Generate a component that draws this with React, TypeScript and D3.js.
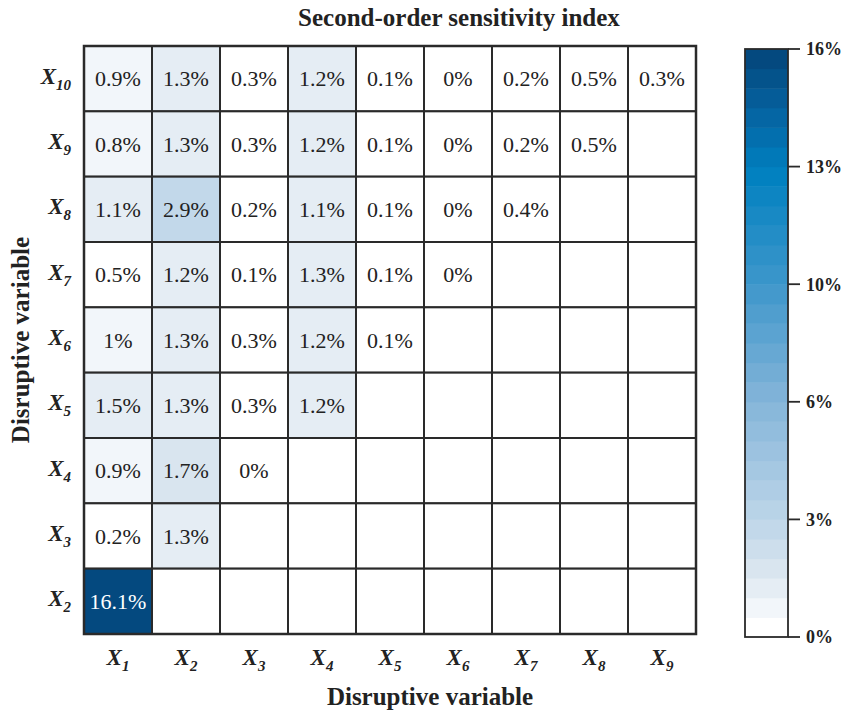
import React from "react";
import * as d3 from "d3";

// Variables on each axis
const colVars = ["1", "2", "3", "4", "5", "6", "7", "8", "9"];
const rowVars = ["10", "9", "8", "7", "6", "5", "4", "3", "2"];

// Second-order indices (%), one row per row variable, columns X1..X(i-1)
const rowX10 = [0.9, 1.3, 0.3, 1.2, 0.1, 0, 0.2, 0.5, 0.3];
const rowX9 = [0.8, 1.3, 0.3, 1.2, 0.1, 0, 0.2, 0.5];
const rowX8 = [1.1, 2.9, 0.2, 1.1, 0.1, 0, 0.4];
const rowX7 = [0.5, 1.2, 0.1, 1.3, 0.1, 0];
const rowX6 = [1, 1.3, 0.3, 1.2, 0.1];
const rowX5 = [1.5, 1.3, 0.3, 1.2];
const rowX4 = [0.9, 1.7, 0];
const rowX3 = [0.2, 1.3];
const rowX2 = [16.1];
const rowValues = [rowX10, rowX9, rowX8, rowX7, rowX6, rowX5, rowX4, rowX3, rowX2];

// Colour bar
const vMax = 16.1;
const nLevels = 30;
const tickFractions = [0, 0.2, 0.4, 0.6, 0.8, 1];

// Colour ramp stops (position, colour)
const rampStops: [number, string][] = [
  [0, "#ffffff"],
  [0.069, "#e5edf4"],
  [0.103, "#d9e5ef"],
  [0.172, "#c2d8ea"],
  [0.41, "#80b3d8"],
  [0.6, "#3f97cb"],
  [0.8, "#0080c0"],
  [0.9, "#0565a3"],
  [1, "#04497f"],
];

const ramp = d3
  .scaleLinear<string>()
  .domain(rampStops.map((s) => s[0]))
  .range(rampStops.map((s) => s[1]))
  .interpolate(d3.interpolateRgb);

const levelColors = d3.range(nLevels).map((i) => ramp(i / (nLevels - 1)));
const colorOf = d3.scaleQuantize<string>().domain([0, vMax]).range(levelColors);

const W = 844;
const H = 714;
const grid = { left: 84, top: 46, right: 696, bottom: 634 };
const cbar = { left: 745, right: 788, top: 49, bottom: 637 };
const serif = "'Times New Roman', 'Liberation Serif', serif";
const ink = "#222";

function VarLabel({ x, y, sub, anchor }: { x: number; y: number; sub: string; anchor: string }) {
  return (
    <text
      x={x}
      y={y}
      textAnchor={anchor}
      fontFamily={serif}
      fontWeight="bold"
      fontStyle="italic"
      fontSize={23}
      fill={ink}
    >
      X
      <tspan fontSize={15} dy={6}>
        {sub}
      </tspan>
    </text>
  );
}

export default function App() {
  const x = d3.scaleBand<string>().domain(colVars).range([grid.left, grid.right]);
  const y = d3.scaleBand<string>().domain(rowVars).range([grid.top, grid.bottom]);
  const cy = d3.scaleLinear().domain([0, vMax]).range([cbar.bottom, cbar.top]);

  const cells = rowVars.flatMap((r, ri) =>
    colVars.map((c, ci) => ({ r, c, v: ci < rowValues[ri].length ? rowValues[ri][ci] : null }))
  );

  const bandH = (cbar.bottom - cbar.top) / nLevels;

  return (
    <svg
      width={W}
      height={H}
      style={{ position: "absolute", left: 0, top: 0, background: "#fff" }}
    >
      <text
        x={459}
        y={26}
        textAnchor="middle"
        fontFamily={serif}
        fontWeight="bold"
        fontSize={25}
        fill={ink}
      >
        Second-order sensitivity index
      </text>

      {cells.map((d) => (
        <g key={d.r + "-" + d.c}>
          <rect
            x={x(d.c)}
            y={y(d.r)}
            width={x.bandwidth()}
            height={y.bandwidth()}
            fill={d.v === null ? "#ffffff" : colorOf(d.v)}
            stroke="#2a2a2a"
            strokeWidth={2}
          />
          {d.v !== null && (
            <text
              x={(x(d.c) as number) + x.bandwidth() / 2}
              y={(y(d.r) as number) + y.bandwidth() / 2}
              dy="0.35em"
              textAnchor="middle"
              fontFamily={serif}
              fontSize={22}
              fill={d.v > 8 ? "#ffffff" : ink}
            >
              {d.v + "%"}
            </text>
          )}
        </g>
      ))}
      <rect
        x={grid.left}
        y={grid.top}
        width={grid.right - grid.left}
        height={grid.bottom - grid.top}
        fill="none"
        stroke="#2a2a2a"
        strokeWidth={2.5}
      />

      {rowVars.map((r) => (
        <VarLabel key={r} x={71} y={(y(r) as number) + y.bandwidth() / 2 + 5} sub={r} anchor="end" />
      ))}
      {colVars.map((c) => (
        <VarLabel key={c} x={(x(c) as number) + x.bandwidth() / 2} y={665} sub={c} anchor="middle" />
      ))}

      <text
        x={430}
        y={705}
        textAnchor="middle"
        fontFamily={serif}
        fontWeight="bold"
        fontSize={25}
        fill={ink}
      >
        Disruptive variable
      </text>
      <text
        transform={`translate(29, ${(grid.top + grid.bottom) / 2}) rotate(-90)`}
        textAnchor="middle"
        fontFamily={serif}
        fontWeight="bold"
        fontSize={25}
        fill={ink}
      >
        Disruptive variable
      </text>

      {levelColors.map((col, i) => (
        <rect
          key={i}
          x={cbar.left}
          y={cbar.bottom - (i + 1) * bandH}
          width={cbar.right - cbar.left}
          height={bandH + 0.5}
          fill={col}
        />
      ))}
      <rect
        x={cbar.left}
        y={cbar.top}
        width={cbar.right - cbar.left}
        height={cbar.bottom - cbar.top}
        fill="none"
        stroke="#2a2a2a"
        strokeWidth={1.8}
      />
      {tickFractions.map((f) => {
        const v = f * vMax;
        return (
          <g key={f}>
            <line
              x1={cbar.right}
              x2={cbar.right + 12}
              y1={cy(v)}
              y2={cy(v)}
              stroke="#2a2a2a"
              strokeWidth={1.8}
            />
            <text
              x={cbar.right + 18}
              y={cy(v)}
              dy="0.35em"
              fontFamily={serif}
              fontWeight="bold"
              fontSize={18}
              fill={ink}
            >
              {Math.round(v) + "%"}
            </text>
          </g>
        );
      })}
    </svg>
  );
}
